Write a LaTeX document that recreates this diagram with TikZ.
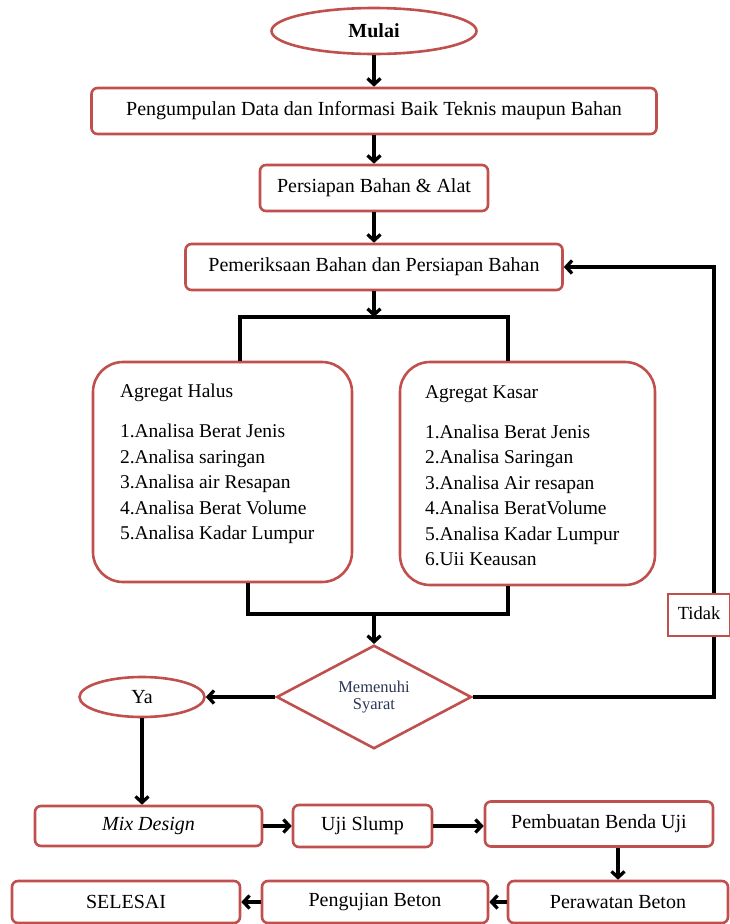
\documentclass[tikz,border=0pt]{standalone}
\usepackage{fontspec}
\setmainfont{Liberation Serif}
\usetikzlibrary{shapes.geometric,arrows.meta}
\definecolor{boxred}{RGB}{192,80,77}
\definecolor{asktext}{RGB}{45,55,85}

\begin{document}
\begin{tikzpicture}[x=1pt, y=-1pt,
  proc/.style={draw=boxred, line width=2.6pt, rounded corners=6pt, fill=white,
    inner sep=0pt, align=center, font=\fontsize{20}{23}\selectfont},
  term/.style={ellipse, draw=boxred, line width=2.6pt, fill=white, inner sep=0pt,
    font=\fontsize{20}{23}\selectfont},
  group/.style={proc, rounded corners=30pt},
  ask/.style={diamond, draw=boxred, line width=2.6pt, fill=white, inner sep=0pt,
    minimum width=195pt, minimum height=94pt, align=center, text=asktext,
    font=\fontsize{16.5}{17}\selectfont},
  flow/.style={-{Straight Barb[length=6pt,width=13pt]}, line width=3.3pt},
  link/.style={line width=3.3pt}]
  \useasboundingbox (0,0) rectangle (730,924);
  % Start and preparation
  \node[term, minimum width=205pt, minimum height=46pt,
    font=\fontsize{20}{23}\selectfont\bfseries] (mulai) at (374,31) {Mulai};
  \node[proc, minimum width=565pt, minimum height=46pt] (kumpul) at (374,111)
    {Pengumpulan Data dan Informasi Baik Teknis maupun Bahan};
  \node[proc, minimum width=228pt, minimum height=46pt] (siap) at (374,188)
    {Persiapan Bahan \& Alat};
  \node[proc, minimum width=377pt, minimum height=46pt] (periksa) at (374,267)
    {Pemeriksaan Bahan dan Persiapan Bahan};
  \draw[flow] (mulai.south) -- (kumpul.north);
  \draw[flow] (kumpul.south) -- (siap.north);
  \draw[flow] (siap.south) -- (periksa.north);
  % Aggregate tests
  \node[group, minimum width=259pt, minimum height=220pt] (halus) at (222.5,472)
    {\parbox[c][176pt][t]{205pt}{\fontsize{19.5}{25.5}\selectfont
      Agregat Halus\\[14.5pt]
      1.Analisa Berat Jenis\\
      2.Analisa saringan\\
      3.Analisa air Resapan\\
      4.Analisa Berat Volume\\
      5.Analisa Kadar Lumpur}};
  \node[group, minimum width=255pt, minimum height=223pt] (kasar) at (527.5,473.5)
    {\parbox[c][176pt][t]{205pt}{\fontsize{19.5}{25.5}\selectfont
      Agregat Kasar\\[14.5pt]
      1.Analisa Berat Jenis\\
      2.Analisa Saringan\\
      3.Analisa Air resapan\\
      4.Analisa BeratVolume\\
      5.Analisa Kadar Lumpur\\
      6.Uii Keausan}};
  \coordinate (pecah) at (374,317);
  \coordinate (pecahL) at (240,317);
  \coordinate (pecahR) at (508,317);
  \draw[flow] (periksa.south) -- (pecah);
  \draw[link] (pecahL |- halus.north) -- (pecahL) -- (pecahR) -- (pecahR |- kasar.north);
  % Decision
  \node[ask] (syarat) at (374,697) {Memenuhi\\Syarat};
  \coordinate (gabung) at (374,614);
  \coordinate (gabungL) at (248,614);
  \coordinate (gabungR) at (508,614);
  \draw[link] (gabungL |- halus.south) -- (gabungL) -- (gabungR) -- (gabungR |- kasar.south);
  \draw[flow] (gabung) -- (syarat.north);
  \coordinate (balikB) at (714,697);
  \coordinate (balikT) at (714,267);
  \draw[flow] (syarat.east) -- (balikB) -- (balikT) -- (periksa.east);
  \node[proc, rounded corners=0pt, minimum width=62pt, minimum height=42pt,
    font=\fontsize{18.5}{20}\selectfont] (tidak) at (699,615) {\raisebox{3pt}{Tidak}};
  \node[term, minimum width=125pt, minimum height=40pt] (ya) at (142,697) {Ya};
  \draw[flow] (syarat.west) -- (ya.east);
  % Concrete work
  \node[proc, minimum width=227pt, minimum height=40pt,
    font=\fontsize{20}{23}\selectfont\itshape] (mix) at (148.5,826) {Mix Design};
  \node[proc, minimum width=139pt, minimum height=42pt] (slump) at (362.5,826) {Uji Slump};
  \node[proc, minimum width=228pt, minimum height=45pt] (buat) at (599,824) {Pembuatan Benda Uji};
  \node[proc, minimum width=220pt, minimum height=42pt] (rawat) at (618,902) {Perawatan Beton};
  \node[proc, minimum width=226pt, minimum height=42pt] (uji) at (375,902) {Pengujian Beton};
  \node[proc, minimum width=228pt, minimum height=42pt] (selesai) at (126,902) {SELESAI};
  \draw[flow] (ya.south) -- (ya.south |- mix.north);
  \draw[flow] (mix.east) -- (slump.west);
  \draw[flow] (slump.east) -- (slump.east -| buat.west);
  \draw[flow] (buat.south -| rawat.north) -- (rawat.north);
  \draw[flow] (rawat.west) -- (uji.east);
  \draw[flow] (uji.west) -- (selesai.east);
\end{tikzpicture}
\end{document}
